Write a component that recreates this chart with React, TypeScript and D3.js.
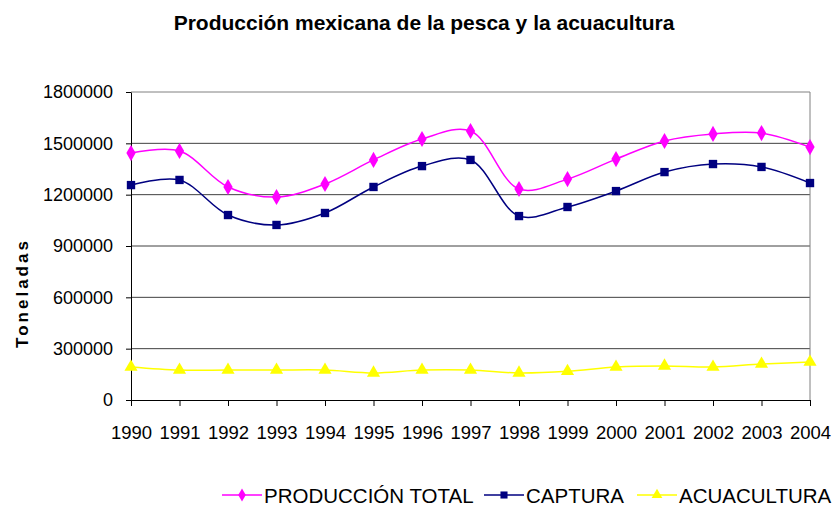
import React, { useEffect, useRef } from 'react';
import * as d3 from 'd3';

const years = [1990, 1991, 1992, 1993, 1994, 1995, 1996, 1997, 1998, 1999, 2000, 2001, 2002, 2003, 2004];
const produccionTotal = [1443000, 1455000, 1245000, 1186000, 1262000, 1403000, 1525000, 1572000, 1233000, 1291000, 1408000, 1514000, 1555000, 1560000, 1478000];
const captura = [1256000, 1286000, 1081000, 1023000, 1093000, 1245000, 1367000, 1403000, 1075000, 1128000, 1221000, 1332000, 1379000, 1362000, 1268000];
const acuacultura = [193000, 175000, 175000, 175000, 175000, 158000, 175000, 175000, 158000, 168000, 193000, 199000, 193000, 210000, 222000];
const yTicks = [0, 300000, 600000, 900000, 1200000, 1500000, 1800000];
const seriesNames = ['PRODUCCIÓN TOTAL', 'CAPTURA', 'ACUACULTURA'];
const seriesColors = ['#FF00FF', '#000080', '#FFFF00'];

const W = 840;
const H = 506;
const font = "'Liberation Sans', Arial, sans-serif";

function App() {
	const ref = useRef<SVGSVGElement>(null);

	useEffect(() => {
		const svg = d3.select(ref.current);
		svg.selectAll('*').remove();

		const margin = { top: 92, right: 30, bottom: 106, left: 131 };
		const width = W - margin.left - margin.right;
		const height = H - margin.top - margin.bottom;

		// Scales
		const xscale = d3.scalePoint<number>().domain(years).range([margin.left, margin.left + width]);
		const yscale = d3.scaleLinear().domain([0, 1800000]).range([margin.top + height, margin.top]);

		// Title
		svg
			.append('text')
			.attr('x', 424)
			.attr('y', 30)
			.attr('text-anchor', 'middle')
			.style('font-family', font)
			.style('font-weight', 'bold')
			.style('font-size', '21px')
			.text('Producción mexicana de la pesca y la acuacultura');

		// Gridlines
		svg
			.append('g')
			.selectAll('line')
			.data(yTicks.filter((t) => t > 0))
			.enter()
			.append('line')
			.attr('x1', margin.left)
			.attr('x2', margin.left + width)
			.attr('y1', (d) => yscale(d))
			.attr('y2', (d) => yscale(d))
			.attr('stroke', (d) => (d === 1800000 ? '#808080' : '#404040'))
			.attr('stroke-width', 1);

		// right border
		svg
			.append('line')
			.attr('x1', margin.left + width)
			.attr('x2', margin.left + width)
			.attr('y1', margin.top)
			.attr('y2', margin.top + height)
			.attr('stroke', '#808080');

		// Axes
		const leftAxis = d3.axisLeft(yscale).tickValues(yTicks).tickSize(5).tickSizeOuter(0).tickFormat((d) => `${d}`);
		const bottomAxis = d3.axisBottom(xscale).tickSize(6).tickSizeOuter(0).tickFormat((d) => `${d}`);

		const gy = svg.append('g').attr('transform', `translate(${margin.left}, 0)`).call(leftAxis);
		gy.selectAll('text').style('font-family', font).style('font-size', '18px').attr('fill', '#000').attr('x', -18);
		gy.selectAll('line,path').attr('stroke', '#000');

		const gx = svg.append('g').attr('transform', `translate(0, ${margin.top + height})`).call(bottomAxis);
		gx.selectAll('text').style('font-family', font).style('font-size', '18.5px').attr('fill', '#000').attr('y', 26);
		gx.selectAll('line,path').attr('stroke', '#000');

		// Axis title
		svg
			.append('text')
			.attr('transform', 'translate(28, 293) rotate(-90)')
			.attr('text-anchor', 'middle')
			.style('font-family', font)
			.style('font-weight', 'bold')
			.style('font-size', '17px')
			.style('letter-spacing', '3px')
			.text('Toneladas');

		// Lines
		const allSeries = [produccionTotal, captura, acuacultura];
		const line = d3
			.line<number>()
			.x((d, i) => xscale(years[i]) as number)
			.y((d) => yscale(d))
			.curve(d3.curveCatmullRom.alpha(0.5));

		const symbols = [d3.symbolDiamond, d3.symbolSquare, d3.symbolTriangle];
		const symbolSizes = [75, 70, 75];

		allSeries.forEach((s, k) => {
			svg
				.append('path')
				.datum(s)
				.attr('d', line)
				.attr('fill', 'none')
				.attr('stroke', seriesColors[k])
				.attr('stroke-width', 1.5);
			svg
				.append('g')
				.selectAll('path')
				.data(s)
				.enter()
				.append('path')
				.attr('transform', (d, i) => `translate(${xscale(years[i])}, ${yscale(d)})`)
				.attr('d', d3.symbol().type(symbols[k]).size(symbolSizes[k]))
				.attr('fill', seriesColors[k]);
		});

		// Legend
		const legendX = [222, 484, 637];
		seriesNames.forEach((name, k) => {
			const g = svg.append('g').attr('transform', `translate(${legendX[k]}, 495)`);
			g.append('line').attr('x1', 0).attr('x2', 40).attr('y1', 0).attr('y2', 0).attr('stroke', seriesColors[k]).attr('stroke-width', 1.5);
			g.append('path')
				.attr('transform', 'translate(20, 0)')
				.attr('d', d3.symbol().type(symbols[k]).size(50))
				.attr('fill', seriesColors[k]);
			g.append('text')
				.attr('x', 42)
				.attr('y', 7.5)
				.style('font-family', font)
				.style('font-size', '20.5px')
				.text(name);
		});
	}, []);

	return (
		<svg
			ref={ref}
			width={W}
			height={H}
			style={{ position: 'absolute', left: 0, top: 0, background: '#fff' }}
		></svg>
	);
}

export default App;
